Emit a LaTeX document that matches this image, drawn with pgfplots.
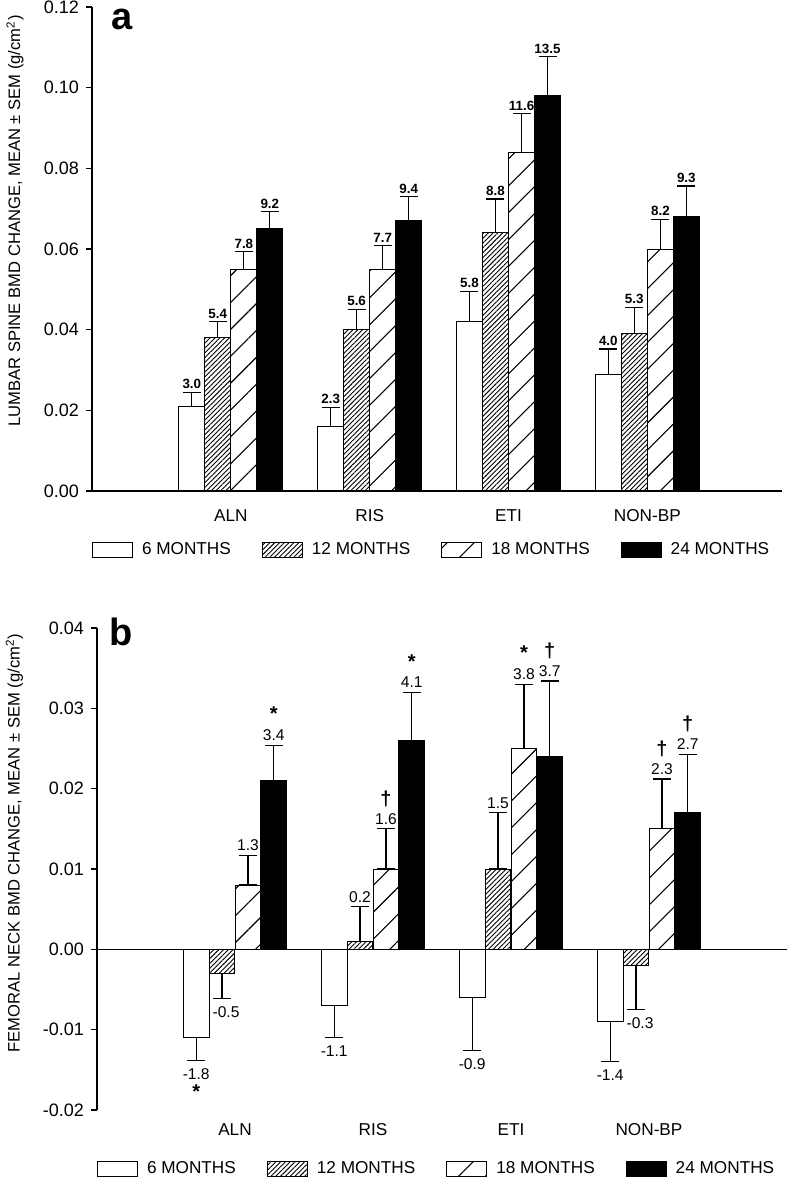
\documentclass[border=0pt]{standalone}
\usepackage{fontspec}
\setmainfont{Liberation Sans}
\usepackage{pgfplots}
\pgfplotsset{compat=1.18}
\usepackage{pgfplotstable}
\usetikzlibrary{patterns.meta}

\newcommand{\SA}[1]{{\bfseries\fontsize{10}{10}\selectfont *}\\[0.5pt]#1}
\newcommand{\DA}[1]{{\bfseries\fontsize{10}{10}\selectfont †}\\[0pt]#1}
\newcommand{\SB}[1]{#1\\{\bfseries\fontsize{10}{10}\selectfont *}}

% ---------- panel a data: category, mean, SEM, label ----------
\pgfplotstableread{
c y e lab
0 0.021 0.0035 3.0
1 0.016 0.0048 2.3
2 0.042 0.0075 5.8
3 0.029 0.0062 4.0
}\aSix
\pgfplotstableread{
c y e lab
0 0.038 0.0040 5.4
1 0.040 0.0050 5.6
2 0.064 0.0084 8.8
3 0.039 0.0065 5.3
}\aTwelve
\pgfplotstableread{
c y e lab
0 0.055 0.0043 7.8
1 0.055 0.0058 7.7
2 0.084 0.0095 11.6
3 0.060 0.0074 8.2
}\aEighteen
\pgfplotstableread{
c y e lab
0 0.065 0.0042 9.2
1 0.067 0.0060 9.4
2 0.098 0.0097 13.5
3 0.068 0.0076 9.3
}\aTwentyfour

% ---------- panel b data ----------
\pgfplotstableread{
c y ep em lab
0 -0.011 0 0.0028 \SB{-1.8}
1 -0.007 0 0.0040 -1.1
2 -0.006 0 0.0066 -0.9
3 -0.009 0 0.0050 -1.4
}\bSix
\pgfplotstableread{
c y ep em lab
0 -0.003 0 0.0031 -0.5
1 0.001 0.0043 0 0.2
2 0.010 0.0070 0 1.5
3 -0.002 0 0.0055 -0.3
}\bTwelve
\pgfplotstableread{
c y ep em lab
0 0.008 0.0037 0 1.3
1 0.010 0.0050 0 \DA{1.6}
2 0.025 0.0080 0 \SA{3.8}
3 0.015 0.0062 0 \DA{2.3}
}\bEighteen
\pgfplotstableread{
c y ep em lab
0 0.021 0.0044 0 \SA{3.4}
1 0.026 0.0060 0 \SA{4.1}
2 0.024 0.0094 0 \DA{3.7}
3 0.017 0.0073 0 \DA{2.7}
}\bTwentyfour

\pgfplotsset{
  b6/.style={ybar, bar width=0.187, bar shift=0, fill=white, draw=black, line width=0.5pt},
  b12/.style={ybar, bar width=0.187, bar shift=0, draw=black, line width=0.5pt,
     pattern={Lines[angle=45,distance=1.7pt,line width=0.45pt]}},
  b18/.style={ybar, bar width=0.187, bar shift=0, draw=black, line width=0.5pt,
     pattern={Lines[angle=45,distance=9.5pt,line width=0.55pt]}},
  b24/.style={ybar, bar width=0.187, bar shift=0, fill=black, draw=black, line width=0.5pt},
  errA/.style={/pgfplots/error bars/y dir=plus, /pgfplots/error bars/y explicit,
     /pgfplots/error bars/error bar style={black, line width=0.6pt, solid},
     /pgfplots/error bars/error mark options={black, rotate=90, line width=0.6pt, mark size=4.5pt}},
  errB/.style={/pgfplots/error bars/y dir=both, /pgfplots/error bars/y explicit,
     /pgfplots/error bars/error bar style={black, line width=0.6pt, solid},
     /pgfplots/error bars/error mark options={black, rotate=90, line width=0.6pt, mark size=4.5pt}},
  labA/.style={only marks, mark=*, mark size=0pt, mark options={draw=none, fill=none},
     forget plot, nodes near coords, point meta=explicit symbolic,
     nodes near coords style={anchor=south, inner sep=1.5pt, text=black,
        font=\bfseries\fontsize{6.7}{8}\selectfont}},
  labBp/.style={only marks, mark=*, mark size=0pt, mark options={draw=none, fill=none},
     forget plot, nodes near coords, point meta=explicit symbolic,
     restrict y to domain=0:1,
     nodes near coords style={anchor=south, inner sep=2pt, align=center, text=black,
        font=\fontsize{7.8}{9.4}\selectfont}},
  labBn/.style={only marks, mark=*, mark size=0pt, mark options={draw=none, fill=none},
     forget plot, nodes near coords, point meta=explicit symbolic,
     restrict y to domain=-1:0,
     nodes near coords style={anchor=north, inner sep=2pt, yshift=-2pt, align=center, text=black,
        font=\fontsize{7.8}{9.4}\selectfont}},
  panel/.style={
     scale only axis, clip=false,
     axis lines*=left,
     axis line style={-, line width=0.75pt},
     x axis line style={draw=none},
     xtick={0,1,2,3}, xticklabels={ALN,RIS,ETI,NON-BP},
     xtick style={draw=none}, xtick align=inside,
     ytick align=outside, major tick length=3pt,
     ytick style={black, line width=0.75pt},
     scaled y ticks=false,
     yticklabel style={font=\fontsize{9}{10}\selectfont},
     legend columns=4, legend cell align=left,
     legend image code/.code={\draw[#1, line width=0.5pt] (0pt,-3.75pt) rectangle (20pt,3.75pt);},
  },
}

\begin{document}
\begin{tikzpicture}
\useasboundingbox (0,0) rectangle (394pt,-589pt);

% ================= panel a =================
\begin{axis}[panel,
  at={(46pt,-245.5pt)}, anchor=south west,
  width=345pt, height=242pt,
  xmin=-1, xmax=3.97, ymin=0, ymax=0.12,
  ytick={0,0.02,0.04,0.06,0.08,0.10,0.12},
  yticklabels={0.00,0.02,0.04,0.06,0.08,0.10,0.12},
  xticklabel style={anchor=center, yshift=-12.5pt, font=\fontsize{8.6}{10}\selectfont},
  ylabel={LUMBAR SPINE BMD CHANGE, MEAN ± SEM (g/cm\textsuperscript{2})},
  ylabel style={at={(axis description cs:-0.1116,0.558)}, anchor=center,
     font=\fontsize{8.3}{10}\selectfont},
  legend style={at={(axis description cs:0,-0.1219)}, anchor=west, draw=none, fill=none,
     inner sep=0pt, outer sep=0pt, font=\fontsize{8.6}{10}\selectfont,
     nodes={inner sep=0pt},
     /tikz/every odd column/.append style={column sep=4.5pt},
     /tikz/every even column/.append style={column sep=15.5pt}},
]
\addplot[b6, errA] table[x expr=\thisrow{c}-0.281, y=y, y error=e] {\aSix};
\addlegendentry{6 MONTHS}
\addplot[b12, errA] table[x expr=\thisrow{c}-0.094, y=y, y error=e] {\aTwelve};
\addlegendentry{12 MONTHS}
\addplot[b18, errA] table[x expr=\thisrow{c}+0.094, y=y, y error=e] {\aEighteen};
\addlegendentry{18 MONTHS}
\addplot[b24, errA] table[x expr=\thisrow{c}+0.281, y=y, y error=e] {\aTwentyfour};
\addlegendentry{24 MONTHS}
\addplot[labA] table[x expr=\thisrow{c}-0.281, y expr=\thisrow{y}+\thisrow{e}, meta=lab] {\aSix};
\addplot[labA] table[x expr=\thisrow{c}-0.094, y expr=\thisrow{y}+\thisrow{e}, meta=lab] {\aTwelve};
\addplot[labA] table[x expr=\thisrow{c}+0.094, y expr=\thisrow{y}+\thisrow{e}, meta=lab] {\aEighteen};
\addplot[labA] table[x expr=\thisrow{c}+0.281, y expr=\thisrow{y}+\thisrow{e}, meta=lab] {\aTwentyfour};
\addplot[black, line width=0.75pt, forget plot] coordinates {(-1,0) (3.97,0)};
\node[font=\bfseries\fontsize{19}{19}\selectfont] at (rel axis cs:0.0435,0.975) {a};
\end{axis}

% ================= panel b =================
\begin{axis}[panel,
  at={(48.5pt,-555pt)}, anchor=south west,
  width=345pt, height=241pt,
  xmin=-1, xmax=4, ymin=-0.02, ymax=0.04,
  ytick={-0.02,-0.01,0,0.01,0.02,0.03,0.04},
  yticklabels={-0.02,-0.01,0.00,0.01,0.02,0.03,0.04},
  xticklabel style={anchor=center, yshift=-10pt, font=\fontsize{8.6}{10}\selectfont},
  ylabel={FEMORAL NECK BMD CHANGE, MEAN ± SEM (g/cm\textsuperscript{2})},
  ylabel style={at={(axis description cs:-0.1196,0.554)}, anchor=center,
     font=\fontsize{8.3}{10}\selectfont},
  legend style={at={(axis description cs:0,-0.1224)}, anchor=west, draw=none, fill=none,
     inner sep=0pt, outer sep=0pt, font=\fontsize{8.6}{10}\selectfont,
     nodes={inner sep=0pt},
     /tikz/every odd column/.append style={column sep=4.5pt},
     /tikz/every even column/.append style={column sep=15.5pt}},
]
\addplot[b6, errB] table[x expr=\thisrow{c}-0.281, y=y, y error plus=ep, y error minus=em] {\bSix};
\addlegendentry{6 MONTHS}
\addplot[b12, errB] table[x expr=\thisrow{c}-0.094, y=y, y error plus=ep, y error minus=em] {\bTwelve};
\addlegendentry{12 MONTHS}
\addplot[b18, errB] table[x expr=\thisrow{c}+0.094, y=y, y error plus=ep, y error minus=em] {\bEighteen};
\addlegendentry{18 MONTHS}
\addplot[b24, errB] table[x expr=\thisrow{c}+0.281, y=y, y error plus=ep, y error minus=em] {\bTwentyfour};
\addlegendentry{24 MONTHS}
\addplot[labBn] table[x expr=\thisrow{c}-0.281, y expr=\thisrow{y}-\thisrow{em}, meta=lab] {\bSix};
\addplot[labBp] table[x expr=\thisrow{c}-0.094, y expr=\thisrow{y}+\thisrow{ep}, meta=lab] {\bTwelve};
\addplot[labBn, nodes near coords style={xshift=2pt}] table[x expr=\thisrow{c}-0.094, y expr=\thisrow{y}-\thisrow{em}, meta=lab] {\bTwelve};
\addplot[labBp] table[x expr=\thisrow{c}+0.094, y expr=\thisrow{y}+\thisrow{ep}, meta=lab] {\bEighteen};
\addplot[labBp] table[x expr=\thisrow{c}+0.281, y expr=\thisrow{y}+\thisrow{ep}, meta=lab] {\bTwentyfour};
\addplot[black, line width=0.75pt, forget plot] coordinates {(-1,0) (4,0)};
\node[font=\bfseries\fontsize{19}{19}\selectfont] at (rel axis cs:0.035,0.992) {b};
\end{axis}
\end{tikzpicture}
\end{document}
